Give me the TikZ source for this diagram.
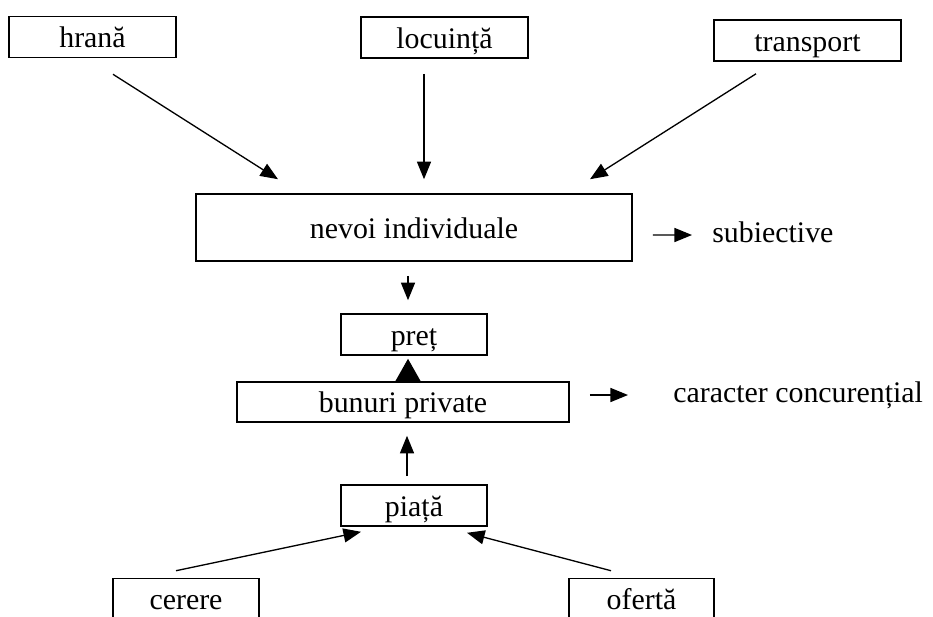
\documentclass[tikz,border=0pt]{standalone}
\usepackage{fontspec}
\setmainfont{Liberation Serif}
\usetikzlibrary{arrows.meta}

\begin{document}
\begin{tikzpicture}[x=0.02cm, y=-0.02cm,
box/.style={draw, line width=0.9pt, inner sep=0pt, minimum width=#1, minimum height=0.82cm,
  text height=14.5pt, text depth=2.5pt, font=\fontsize{17}{20}\selectfont},
lbl/.style={inner sep=0pt, anchor=west, text height=12.5pt, text depth=3.5pt,
  font=\fontsize{17}{20}\selectfont},
arr/.style={-{Triangle[length=10pt, width=8pt]}, line width=0.75pt},
bigarr/.style={-{Triangle[length=13pt, width=14.5pt]}, line width=0.75pt}]
\useasboundingbox (0,0) rectangle (933,616);

\node[box=3.34cm] (hrana) at (92.5,37) {hrană};
\node[box=3.34cm] (locuinta) at (444.5,37.5) {locuință};
\node[box=3.74cm] (transport) at (807.5,40.5) {transport};
\node[box=8.72cm, minimum height=1.34cm] (nevoi) at (414,227.5) {nevoi individuale};
\node[box=2.92cm] (pret) at (414,334.5) {preț};
\node[box=6.64cm, minimum height=0.8cm] (bunuri) at (403,402) {bunuri private};
\node[box=2.92cm] (piata) at (414,505.5) {piață};
\node[box=2.92cm] (cerere) at (186,599) {cerere};
\node[box=2.9cm] (oferta) at (641.5,599) {ofertă};
\node[lbl] (subiect) at (712,235) {subiective};
\node[lbl] (caracter) at (673,395) {caracter concurențial};

\draw[arr] ([shift={(20.5,16)}]hrana.south) -- ([shift={(-136,-14)}]nevoi.north);
\draw[arr] ([shift={(-20.5,15)}]locuinta.south) -- ([shift={(10,-14)}]nevoi.north);
\draw[arr] ([shift={(-51.5,12)}]transport.south) -- ([shift={(176,-14)}]nevoi.north);
\draw[arr] ([shift={(-6,14)}]nevoi.south) -- ([shift={(-6,-13)}]pret.north);
\draw[bigarr] ([shift={(5,0)}]bunuri.north) -- ([shift={(-6,3)}]pret.south);
\draw[arr] ([shift={(-7,-8)}]piata.north) -- ([shift={(4,13)}]bunuri.south);
\draw[arr] ([shift={(-10,-7)}]cerere.north) -- ([shift={(-53,5)}]piata.south);
\draw[arr] ([shift={(-30.5,-7)}]oferta.north) -- ([shift={(53,6)}]piata.south);
\draw[arr] ([shift={(20,7.5)}]nevoi.east) -- ([shift={(-20,0)}]subiect.west);
\draw[arr] ([shift={(20,-7)}]bunuri.east) -- ([shift={(-45,0)}]caracter.west);
\end{tikzpicture}
\end{document}
